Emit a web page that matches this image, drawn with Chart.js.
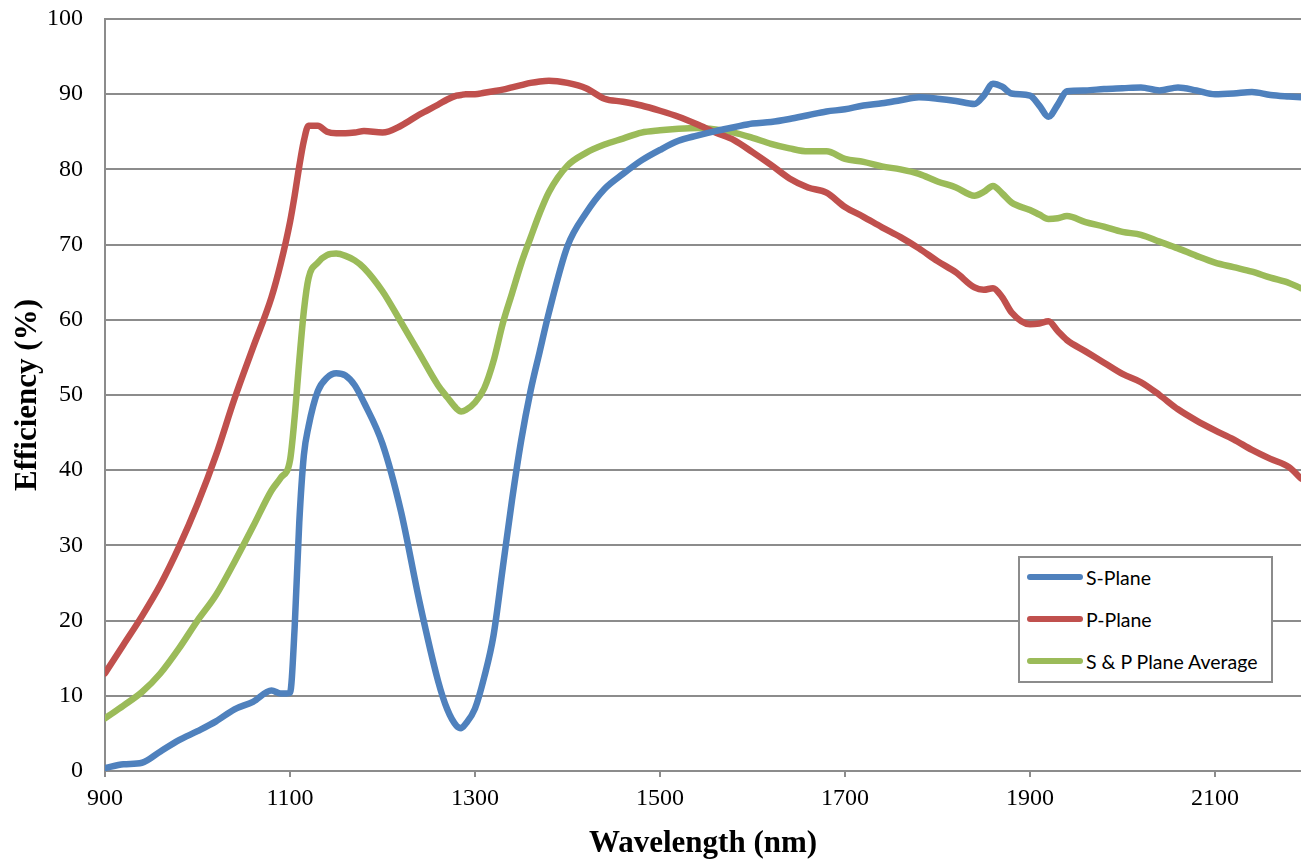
<!DOCTYPE html>
<html>
<head>
<meta charset="utf-8">
<script src="https://cdn.jsdelivr.net/npm/chart.js@4"></script>
<style>
  html, body { margin: 0; padding: 0; background: #fff; }
  #wrap { position: relative; width: 1301px; height: 863px; overflow: hidden; }
  #legend {
    position: absolute; left: 1018px; top: 556px; width: 255px; height: 127px;
    border: 2px solid #8c8c8c; box-sizing: border-box; background: #fff;
    font-family: Lato, "Open Sans", sans-serif; font-size: 19.5px; color: #000;
  }
  #legend .row { position: absolute; left: 7px; height: 22px; display: flex; align-items: center; }
  #legend .swatch { width: 56px; height: 6px; border-radius: 3px; margin-right: 3px; }
</style>
</head>
<body>
<div id="wrap">
  <canvas id="c" width="1301" height="863"></canvas>
  <div id="legend"></div>
</div>
<script>
// 파장 (nm)
var wavelengths = [900,920,940,960,980,1000,1020,1040,1060,1080,1090,1100,1105,1110,1115,1120,1130,1140,1150,1160,1170,1180,1200,1220,1240,1260,1270,1280,1285,1290,1300,1310,1320,1330,1340,1350,1360,1370,1380,1400,1420,1440,1460,1480,1500,1520,1540,1560,1580,1600,1620,1640,1660,1680,1700,1720,1740,1760,1780,1800,1820,1840,1850,1860,1870,1880,1900,1910,1920,1930,1940,1960,1980,2000,2020,2040,2060,2080,2100,2120,2140,2160,2180,2193];

var sPlane = [0.4,0.9,1.1,2.6,4.1,5.3,6.6,8.2,9.2,10.7,10.3,10.4,19,33,42,45.8,50.5,52.3,52.9,52.6,51.3,49,43.5,34.5,22.5,12,8.2,6.0,5.7,6.3,8.3,12.5,18,27,36,44,50.5,55.8,61,69.8,74.2,77.4,79.4,81.2,82.6,83.8,84.5,85.1,85.6,86.1,86.3,86.7,87.2,87.7,88.0,88.5,88.8,89.2,89.6,89.4,89.1,88.7,89.8,91.4,91.0,90.1,89.8,88.5,87.0,88.6,90.4,90.5,90.7,90.8,90.9,90.5,90.9,90.5,90.0,90.1,90.3,89.9,89.7,89.6];

var pPlane = [13.0,16.8,20.6,24.8,29.8,35.5,42,49.5,56.3,63,67.5,73,76.5,80.4,83.8,85.8,85.8,85.0,84.8,84.8,84.9,85.1,84.9,85.8,87.3,88.6,89.3,89.8,89.9,90.0,90.0,90.2,90.4,90.6,90.9,91.2,91.5,91.7,91.8,91.5,90.8,89.4,89.0,88.5,87.8,87.0,86.0,84.9,83.9,82.3,80.6,78.8,77.6,76.9,75.0,73.7,72.3,71.0,69.5,67.8,66.3,64.3,64.0,64.2,63.0,61.0,59.4,59.5,59.8,58.5,57.3,55.8,54.3,52.8,51.7,50.0,48.1,46.6,45.3,44.1,42.7,41.5,40.4,38.9];

var spAverage = [7.0,8.7,10.5,13.0,16.3,20.0,23.4,27.8,32.5,37.3,39.0,41.3,47,54.5,61.2,65.5,67.6,68.6,68.8,68.5,67.9,66.9,63.8,59.7,55.5,51.3,49.7,48.2,47.8,48.0,49.0,50.9,54.5,59.5,63.5,67.5,70.9,74.2,77.0,80.5,82.2,83.3,84.1,84.9,85.2,85.4,85.5,85.3,84.9,84.2,83.4,82.8,82.4,82.4,81.4,81.0,80.4,80.0,79.4,78.4,77.6,76.5,77.0,77.8,76.8,75.6,74.6,74.0,73.4,73.5,73.8,73.0,72.4,71.7,71.3,70.4,69.5,68.5,67.6,67.0,66.4,65.6,64.9,64.2];

var xTicks = [900, 1100, 1300, 1500, 1700, 1900, 2100];
var seriesLabels = ['S-Plane', 'P-Plane', 'S & P Plane Average'];
var seriesColors = ['#4f81bd', '#c0504d', '#9bbb59'];

function toPoints(arr) {
  return arr.map(function (v, i) { return { x: wavelengths[i], y: v }; });
}

var seriesValues = [sPlane, pPlane, spAverage];
var datasets = seriesValues.map(function (vals, i) {
  return {
    label: seriesLabels[i],
    data: toPoints(vals),
    borderColor: seriesColors[i],
    backgroundColor: seriesColors[i],
    borderWidth: 6.5,
    pointRadius: 0,
    cubicInterpolationMode: 'monotone',
    fill: false,
    borderCapStyle: 'round',
    borderJoinStyle: 'round'
  };
});

var serif = '"Liberation Serif", "Times New Roman", serif';
var gridGray = '#8c8c8c';

new Chart(document.getElementById('c'), {
  type: 'line',
  data: { datasets: datasets },
  options: {
    animation: false,
    responsive: false,
    parsing: false,
    layout: { padding: { top: 19, right: 0, left: 0, bottom: 0 } },
    scales: {
      x: {
        type: 'linear',
        min: 900,
        max: 2193,
        afterBuildTicks: function (scale) {
          scale.ticks = xTicks.map(function (v) { return { value: v }; });
        },
        afterFit: function (scale) {
          scale.height = 92;
          scale.paddingLeft = 0;
          scale.paddingRight = 0;
        },
        ticks: {
          color: '#000', font: { family: serif, size: 24 }, padding: 7, maxRotation: 0,
          callback: function (v) { return String(v); }
        },
        grid: { drawOnChartArea: false, drawTicks: true, tickLength: 6, color: gridGray, lineWidth: 2 },
        border: { color: gridGray, width: 2 },
        title: { display: true, text: 'Wavelength (nm)', color: '#000', font: { family: serif, size: 31, weight: 'bold' }, padding: { top: 0, bottom: 0 } }
      },
      y: {
        min: 0,
        max: 100,
        ticks: { stepSize: 10, color: '#000', font: { family: serif, size: 24 }, padding: 22 },
        afterFit: function (scale) {
          scale.width = 105;
          scale.paddingTop = 0;
          scale.paddingBottom = 0;
        },
        grid: { color: gridGray, lineWidth: 2, drawTicks: false },
        border: { color: gridGray, width: 2 },
        title: { display: true, text: 'Efficiency (%)', color: '#000', font: { family: serif, size: 31, weight: 'bold' }, padding: { top: 9, bottom: 0 } }
      }
    },
    plugins: {
      legend: { display: false },
      tooltip: { enabled: false }
    }
  }
});

// HTML 범례 (차트 안쪽 오른쪽 아래 박스)
var legendEl = document.getElementById('legend');
seriesLabels.forEach(function (lab, i) {
  var row = document.createElement('div');
  row.className = 'row';
  row.style.top = (8 + i * 42) + 'px';
  var sw = document.createElement('div');
  sw.className = 'swatch';
  sw.style.background = seriesColors[i];
  var tx = document.createElement('span');
  tx.textContent = lab;
  row.appendChild(sw);
  row.appendChild(tx);
  legendEl.appendChild(row);
});
</script>
</body>
</html>
